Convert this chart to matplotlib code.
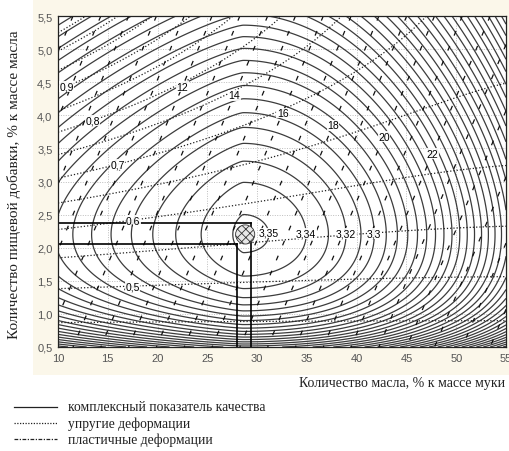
import numpy as np
import matplotlib
matplotlib.use("Agg")
import matplotlib.pyplot as plt
from matplotlib.lines import Line2D
from matplotlib.patches import Rectangle

# ---- axes: oil (% of flour mass) and food additive (% of oil mass) ----
oil_ticks = [10, 15, 20, 25, 30, 35, 40, 45, 50, 55]
oil_tick_labels = ["10", "15", "20", "25", "30", "35", "40", "45", "50", "55"]
additive_ticks = [0.5, 1.0, 1.5, 2.0, 2.5, 3.0, 3.5, 4.0, 4.5, 5.0, 5.5]
additive_tick_labels = ["0,5", "1,0", "1,5", "2,0", "2,5", "3,0", "3,5",
                        "4,0", "4,5", "5,0", "5,5"]

# ---- fitted response surfaces ----
# complex quality index: peak, right-side curvature, left-side coefficient,
# left-side exponent, additive curvature, additive power
quality_center = [28.6, 2.2]
quality_coef = [3.352, 0.0003, 0.0019, 1.28, 0.81, 0.3]
quality_levels = np.round(np.arange(2.90, 3.3501, 0.01), 2)
quality_label_levels = [3.30, 3.32, 3.34, 3.35]
quality_label_pos = [(42.0, 2.22), (39.0, 2.22), (34.9, 2.22), (31.0, 2.22)]

# elastic deformations
elastic_coef = [0.3775, 0.0746, 0.0102, 0.00068]
elastic_levels = np.round(np.arange(0.30, 1.2001, 0.05), 2)
elastic_label_levels = [0.5, 0.6, 0.7, 0.8, 0.9]
elastic_label_pos = [(17.5, 1.42), (17.6, 2.36), (16.0, 3.26), (13.5, 3.9), (10.9, 4.43)]

# plastic deformations
plastic_coef = [8.38, 0.358, 1.0]
plastic_levels = np.arange(4, 31, 1)
plastic_label_levels = [12, 14, 16, 18, 20, 22]
plastic_label_pos = [(22.5, 4.43), (27.8, 4.3), (33.1, 4.0), (38.1, 3.82),
                     (43.3, 3.64), (47.6, 3.42)]

# optimum region (projections of the optimum onto the axes)
optimum = (28.8, 2.2)
oil_range = [28.0, 29.4]
additive_range = [2.05, 2.37]

legend_items = ["комплексный показатель качества",
                "упругие деформации",
                "пластичные деформации"]
x_title = "Количество масла, % к массе муки"
y_title = "Количество пищевой добавки, % к массе масла"

# ---- grids ----
xs = np.linspace(10, 55, 450)
ys = np.linspace(0.5, 5.5, 450)
X, Y = np.meshgrid(xs, ys)

q0, qa, qc, qn, qb, qp = quality_coef
dX = X - quality_center[0]
oil_drop = np.where(dX >= 0, qa * dX ** 2, qc * np.abs(dX) ** qn)
Q = q0 - oil_drop - qb * (Y ** qp - quality_center[1] ** qp) ** 2

e0, e1, e2, e3 = elastic_coef
E = e0 + e1 * Y + e2 * Y ** 2 - e3 * (Y - 0.5) ** 2 * ((X - 10) - (X - 10) ** 2 / 100)

p0, p1, p2 = plastic_coef
P = p0 + p1 * X - p2 * Y


def comma(v):
    return f"{v:g}".replace(".", ",")


W, H = 509, 452
fig = plt.figure(figsize=(W / 100, H / 100), dpi=100)
fig.patch.set_facecolor("white")
fig.add_artist(Rectangle((33 / W, 1 - 376 / H), 1, 376 / H, transform=fig.transFigure,
                         facecolor="#fbf7ea", edgecolor="none", zorder=-10))

ax = fig.add_axes([58 / W, 1 - 348 / H, 448 / W, 331 / H])
ax.set_facecolor("white")
ax.set_xlim(10, 55)
ax.set_ylim(0.5, 5.5)

ax.set_xticks(oil_ticks)
ax.set_xticklabels(oil_tick_labels)
ax.set_yticks(additive_ticks)
ax.set_yticklabels(additive_tick_labels)
ax.tick_params(length=0, pad=4, labelsize=8, labelcolor="#555555")
for lab in ax.get_xticklabels() + ax.get_yticklabels():
    lab.set_family("Liberation Sans")
ax.grid(True, color="#bdbdbd", linestyle=(0, (1, 1.5)), linewidth=0.7)
ax.set_axisbelow(True)
for s in ax.spines.values():
    s.set_linewidth(0.9)
    s.set_color("#222222")


def draw_family(Z, levels, label_levels, label_pos, color, ls):
    """Unlabelled contours plus a separate labelled set of the same style."""
    lab = np.array(label_levels, dtype=float)
    rest = [v for v in levels if np.min(np.abs(lab - v)) > 1e-9]
    ax.contour(X, Y, Z, levels=rest, colors=color, linewidths=0.9, linestyles=[ls])
    cs = ax.contour(X, Y, Z, levels=sorted(lab), colors=color, linewidths=0.9,
                    linestyles=[ls])
    texts = ax.clabel(cs, manual=label_pos, fmt=comma, fontsize=7.5, inline=False,
                      colors="black")
    for t in texts:
        t.set_rotation(0)
        t.set_family("Liberation Sans")
        t.set_bbox(dict(facecolor="white", edgecolor="none", pad=0.3, alpha=0.9))
        t.set_zorder(6)


# complex quality index: solid
draw_family(Q, quality_levels, quality_label_levels, quality_label_pos, "#3c3c3c", "solid")
# elastic deformations: dotted
draw_family(E, elastic_levels, elastic_label_levels, elastic_label_pos, "#202020", (0, (1, 1.6)))
# plastic deformations: short dashes
draw_family(P, plastic_levels, plastic_label_levels, plastic_label_pos, "#101010", (0, (4, 9)))

# optimum region projections
lw = 1.2
ax.plot([10, oil_range[1]], [additive_range[1]] * 2, color="black", lw=lw)
ax.plot([10, oil_range[0]], [additive_range[0]] * 2, color="black", lw=lw)
ax.plot([oil_range[0]] * 2, [additive_range[0], 0.5], color="black", lw=lw)
ax.plot([oil_range[1]] * 2, [additive_range[1], 0.5], color="black", lw=lw)
plt.rcParams["hatch.linewidth"] = 0.6
ax.scatter([optimum[0]], [optimum[1]], s=190, marker="o", facecolor="#e8e8e8",
           edgecolor="#333333", hatch="xxxx", linewidth=0.6, zorder=5)

# axis titles
fig.text(505 / W, 1 - 383 / H, x_title, ha="right", va="center",
         family="Liberation Serif", fontsize=10, color="#222222")
fig.text(14 / W, 1 - 185 / H, y_title, ha="center", va="center", rotation=90,
         family="Liberation Serif", fontsize=11, color="#222222")

# legend
rows_y = [408, 424, 440]
styles = ["solid", (0, (1, 1.2)), (0, (3, 1.2, 1, 1.2))]
for yy, txt, st in zip(rows_y, legend_items, styles):
    fig.add_artist(Line2D([14 / W, 57 / W], [1 - yy / H] * 2, transform=fig.transFigure,
                          color="#222222", lw=0.9, linestyle=st))
    fig.text(68 / W, 1 - yy / H, txt, ha="left", va="center",
             family="Liberation Serif", fontsize=9.8, color="#222222")

fig.savefig("out.png", dpi=100)
